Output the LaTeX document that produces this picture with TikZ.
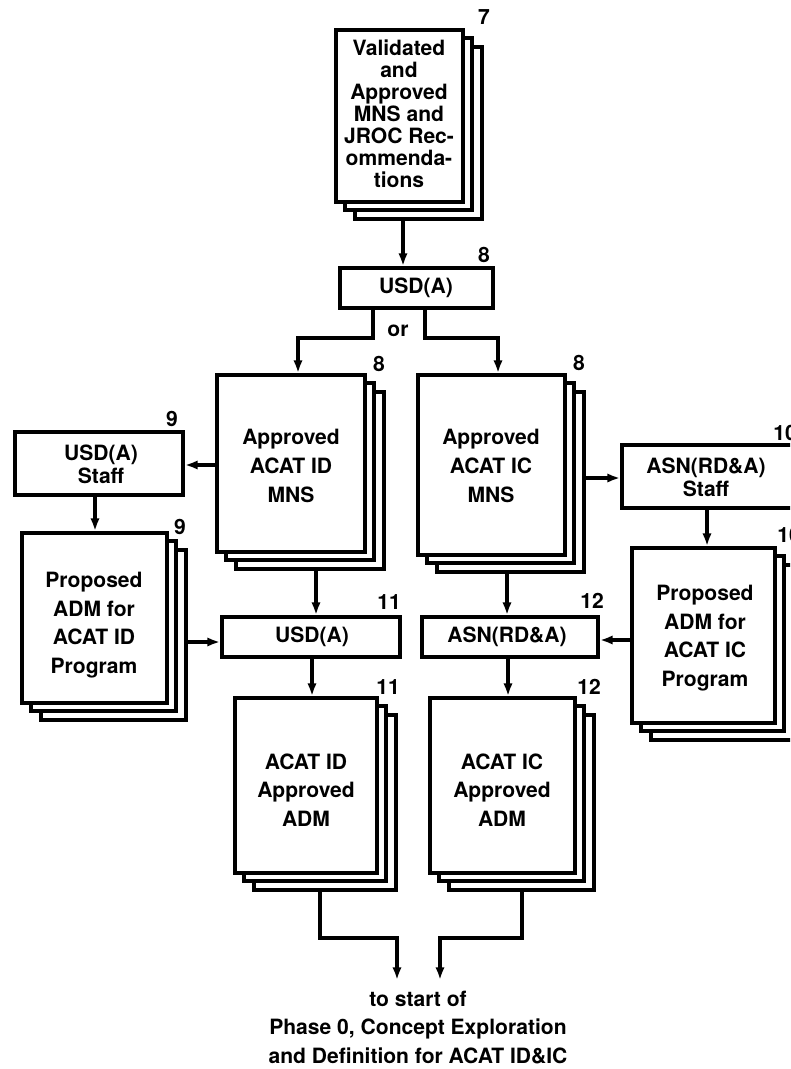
\documentclass[tikz,border=0pt]{standalone}
\usepackage{fontspec}
\setmainfont{TeX Gyre Heros}
\usetikzlibrary{fit,arrows.meta}

\tikzset{
  frontpage/.style={draw, line width=2.9pt, fill=white, inner sep=0pt},
  backpage/.style={draw, line width=2.3pt, fill=white, inner sep=0pt},
  boxnode/.style={draw, line width=2.9pt, fill=white, inner sep=0pt},
  arr/.style={line width=2.5pt, -{Latex[length=9.5pt,width=7pt]}},
  doctext/.style={align=center, font=\fontsize{15.8}{21.5}\selectfont\bfseries, inner sep=0pt},
  toptext/.style={align=center, font=\fontsize{15.8}{16.5}\selectfont\bfseries, inner sep=0pt},
  boxtext/.style={align=center, font=\fontsize{15.8}{17.5}\selectfont\bfseries, inner sep=0pt},
  numlabel/.style={font=\fontsize{15.8}{17}\selectfont\bfseries, inner sep=0pt},
}

% name, x1, y1, x2, y2
\newcommand\docstack[5]{%
  \node[backpage, fit={({#2+19},{#3+17}) ({#4+19},{#5+17})}] (#1b2) {};
  \node[backpage, fit={({#2+9},{#3+8}) ({#4+9},{#5+8})}] (#1b1) {};
  \node[frontpage, fit={(#2,#3) (#4,#5)}] (#1) {};
}
\newcommand\plainbox[5]{%
  \node[boxnode, fit={(#2,#3) (#4,#5)}] (#1) {};
}

\begin{document}
\begin{tikzpicture}[x=0.75pt,y=-0.75pt]
\useasboundingbox (0,0) rectangle (790,1069);
\clip (0,0) rectangle (790,1069);

% ---------- top document (7)
\docstack{d7}{336}{30}{463}{202}
\node[toptext] (t7) at (399,114) {Validated\\and\\Approved\\MNS and\\JROC Rec-\\ommenda-\\tions};
\node[numlabel] (n7) at (484,17) {7};

% ---------- USD(A) box (8)
\plainbox{usd8}{340}{268}{493}{308}
\node[boxtext] (t8) at (416,288) {USD(A)};
\node[numlabel] (n8a) at (484,255) {8};
\node[boxtext] (or) at (398,331) {or};

% ---------- middle documents (8)
\docstack{dL}{217}{375}{365}{552}
\node[doctext] (tL) at (291,466) {Approved\\ACAT ID\\MNS};
\node[numlabel] (n8b) at (379,364) {8};

\docstack{dR}{418}{375}{565}{555}
\node[doctext] (tR) at (491,466) {Approved\\ACAT IC\\MNS};
\node[numlabel] (n8c) at (579,363) {8};

% ---------- staff boxes
\plainbox{s9}{15}{432}{183}{495}
\node[boxtext] (ts9) at (101,464) {USD(A)\\Staff};
\node[numlabel] (n9a) at (172,419) {9};

\plainbox{s10}{622}{445}{794}{508}
\node[boxtext] (ts10) at (706,477) {ASN(RD\&A)\\Staff};
\node[numlabel] (n10a) at (785,433) {10};

% ---------- proposed ADM documents
\docstack{p9}{22}{533}{167}{703}
\node[doctext] (tp9) at (94,625) {Proposed\\ADM for\\ACAT ID\\Program};
\node[numlabel] (n9b) at (180,527) {9};

\docstack{p10}{632}{548}{775}{723}
\node[doctext] (tp10) at (705,638) {Proposed\\ADM for\\ACAT IC\\Program};
\node[numlabel] (n10b) at (789,535) {10};

% ---------- approval boxes
\plainbox{u11}{222}{617}{400}{657}
\node[boxtext] (tu11) at (312,637) {USD(A)};
\node[numlabel] (n11a) at (389,602) {11};

\plainbox{a12}{422}{617}{598}{657}
\node[boxtext] (ta12) at (507,637) {ASN(RD\&A)};
\node[numlabel] (n12a) at (592,601) {12};

% ---------- approved ADM documents
\docstack{e11}{235}{698}{377}{873}
\node[doctext] (te11) at (306,790) {ACAT ID\\Approved\\ADM};
\node[numlabel] (n11b) at (388,687) {11};

\docstack{e12}{430}{698}{575}{873}
\node[doctext] (te12) at (502,790) {ACAT IC\\Approved\\ADM};
\node[numlabel] (n12b) at (589,687) {12};

% ---------- bottom text
\node[boxtext] (end1) at (418,999) {to start of};
\node[boxtext] (end2) at (418,1029) {Phase 0, Concept Exploration};
\node[boxtext] (end3) at (418,1056) {and Definition for ACAT ID\&IC};

% ---------- helper coordinates
\coordinate (x403) at (403,0);
\coordinate (x373) at (373,0);
\coordinate (x425) at (425,0);
\coordinate (x298) at (298,0);
\coordinate (x498) at (498,0);
\coordinate (x95) at (95,0);
\coordinate (x707) at (707,0);
\coordinate (x316) at (316,0);
\coordinate (x507) at (507,0);
\coordinate (x312) at (312,0);
\coordinate (x508) at (508,0);
\coordinate (x320) at (320,0);
\coordinate (x522) at (522,0);
\coordinate (y338) at (0,338);
\coordinate (y465) at (0,465);
\coordinate (y478) at (0,478);
\coordinate (y642) at (0,642);
\coordinate (y640) at (0,640);
\coordinate (y938) at (0,938);
\coordinate (tipL) at (397,980);
\coordinate (tipR) at (440,980);

% ---------- connectors
\draw[arr] (d7b2.south -| x403) -- (usd8.north -| x403);
\draw[arr] (usd8.south -| x373) -- (x373 |- y338) -- (x298 |- y338) -- (dL.north -| x298);
\draw[arr] (usd8.south -| x425) -- (x425 |- y338) -- (x498 |- y338) -- (dR.north -| x498);
\draw[arr] (dL.west |- y465) -- (s9.east |- y465);
\draw[arr] (dRb2.east |- y478) -- (s10.west |- y478);
\draw[arr] (s9.south -| x95) -- (p9.north -| x95);
\draw[arr] (s10.south -| x707) -- (p10.north -| x707);
\draw[arr] (p9b2.east |- y642) -- (u11.west |- y642);
\draw[arr] (p10.west |- y640) -- (a12.east |- y640);
\draw[arr] (dLb2.south -| x316) -- (u11.north -| x316);
\draw[arr] (dRb2.south -| x507) -- (a12.north -| x507);
\draw[arr] (u11.south -| x312) -- (e11.north -| x312);
\draw[arr] (a12.south -| x508) -- (e12.north -| x508);
\draw[arr] (e11b2.south -| x320) -- (x320 |- y938) -- (tipL |- y938) -- (tipL);
\draw[arr] (e12b2.south -| x522) -- (x522 |- y938) -- (tipR |- y938) -- (tipR);
\end{tikzpicture}
\end{document}
